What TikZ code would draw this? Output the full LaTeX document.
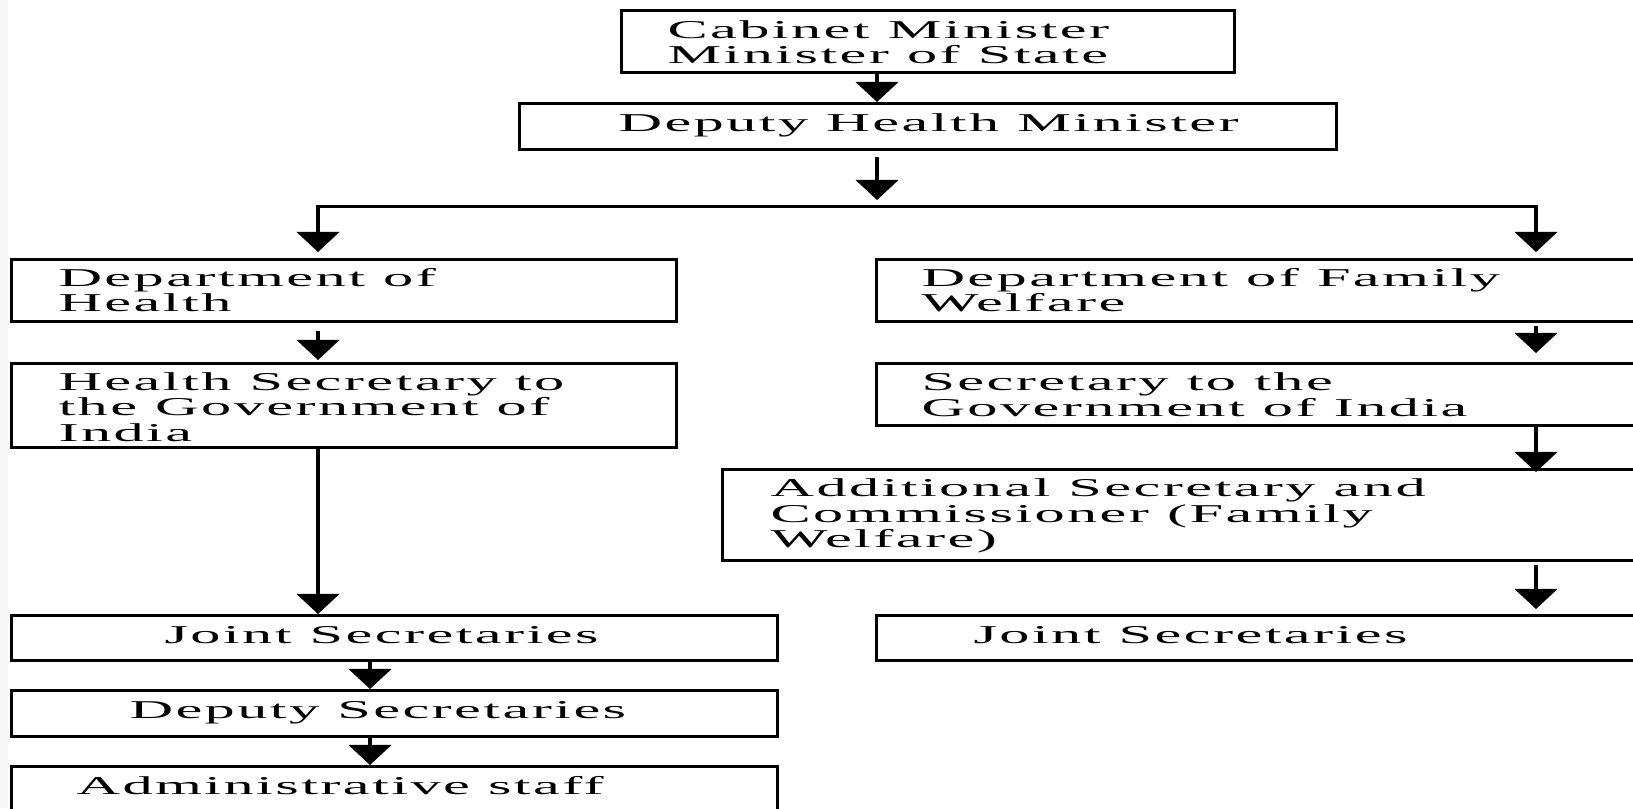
\documentclass[tikz,border=0pt]{standalone}
\usepackage{fontspec}
\setmainfont[LetterSpace=4]{Liberation Serif}
\usetikzlibrary{arrows.meta,calc}
% stretched chart lettering, one tabular row per line; optional lift
\newcommand{\orgtext}[2][0pt]{\raisebox{#1}[\height][\depth]{%
    \scalebox{2.35}[1]{\spaceskip=2.2pt\relax\begin{tabular}{@{}l@{}}#2\end{tabular}}}}

\begin{document}
\begin{tikzpicture}[x=0.01cm, y=-0.01cm,
    box/.style={draw, line width=0.85pt, anchor=north west, inner ysep=0pt, align=left,
        font=\fontsize{7.3}{7.1}\selectfont},
    flow/.style={line width=1.1pt, -{Triangle[width=12pt,length=5.7pt]}}]

    % --- Page frame ---
    \useasboundingbox (0,0) rectangle (1633,808);
    \clip (0,0) rectangle (1633,808);
    \fill[black!3] (0,0) rectangle (8,808);

    % --- Coordinates ---
    % Columns of the connectors
    \coordinate (mid) at (877,206);
    \coordinate (busL) at (318,206);
    \coordinate (busR) at (1536,206);
    \coordinate (colL) at (370,0);

    % --- Ministers ---
    \node[box, minimum width=6.13cm, minimum height=0.62cm, text width=5.21cm, inner xsep=0.46cm]
        (cab) at (620,9) {\orgtext[-1.2pt]{Cabinet Minister\\Minister of State}};
    \node[box, minimum width=8.17cm, minimum height=0.46cm, text width=6.19cm, inner xsep=0.99cm]
        (dhm) at (518,102) {\orgtext{Deputy Health Minister}};

    % --- Department of Health (left) ---
    \node[box, minimum width=6.65cm, minimum height=0.62cm, text width=5.71cm, inner xsep=0.47cm]
        (doh) at (10,258) {\orgtext[-0.9pt]{Department of\\Health}};
    \node[box, minimum width=6.65cm, minimum height=0.84cm, text width=5.71cm, inner xsep=0.47cm]
        (hsg) at (10,362) {\orgtext[-1.4pt]{Health Secretary to\\the Government of\\India}};
    \node[box, minimum width=7.66cm, minimum height=0.45cm, text width=4.6cm, inner xsep=1.53cm]
        (jsl) at (10,614) {\orgtext{Joint Secretaries}};
    \node[box, minimum width=7.66cm, minimum height=0.46cm, text width=5.3cm, inner xsep=1.18cm]
        (dsl) at (10,689) {\orgtext{Deputy Secretaries}};
    \node[box, minimum width=7.66cm, minimum height=0.46cm, text width=6.36cm, inner xsep=0.65cm]
        (asl) at (10,765) {\orgtext{Administrative staff}};

    % --- Department of Family Welfare (right) ---
    \node[box, minimum width=8.25cm, minimum height=0.62cm, text width=7.35cm, inner xsep=0.45cm]
        (dfw) at (875,258) {\orgtext[-0.9pt]{Department of Family\\Welfare}};
    \node[box, minimum width=8.25cm, minimum height=0.62cm, text width=7.35cm, inner xsep=0.45cm]
        (sgi) at (875,362) {\orgtext[-1.1pt]{Secretary to the\\Government of India}};
    \node[box, minimum width=9.79cm, minimum height=0.91cm, text width=8.83cm, inner xsep=0.48cm]
        (asc) at (721,468) {\orgtext[-0.6pt]{Additional Secretary and\\Commissioner (Family\\Welfare)}};
    \node[box, minimum width=8.25cm, minimum height=0.45cm, text width=6.31cm, inner xsep=0.97cm]
        (jsr) at (875,614) {\orgtext{Joint Secretaries}};

    % --- Connectors ---
    \draw[flow] (cab.south -| mid) -- (dhm.north -| mid);
    \draw[flow] ($(dhm.south -| mid)+(0,6)$) -- ($(mid)+(0,-6)$);
    \draw[line width=0.85pt] (busL) -- (busR);
    \draw[flow] ($(busL)+(0,-1)$) -- ($(doh.north -| busL)+(0,-6)$);
    \draw[flow] ($(busR)+(0,-1)$) -- ($(dfw.north -| busR)+(0,-6)$);

    % left column
    \draw[flow] ($(doh.south -| busL)+(0,8)$) -- ($(hsg.north -| busL)+(0,-2)$);
    \draw[flow] (hsg.south -| busL) -- (jsl.north -| busL);
    \draw[flow] (jsl.south -| colL) -- (dsl.north -| colL);
    \draw[flow] (dsl.south -| colL) -- (asl.north -| colL);

    % right column
    \draw[flow] ($(dfw.south -| busR)+(0,3)$) -- ($(sgi.north -| busR)+(0,-9)$);
    \draw[flow] (sgi.south -| busR) -- ($(asc.north -| busR)+(0,4)$);
    \draw[flow] ($(asc.south -| busR)+(0,3)$) -- ($(jsr.north -| busR)+(0,-5)$);

\end{tikzpicture}
\end{document}
